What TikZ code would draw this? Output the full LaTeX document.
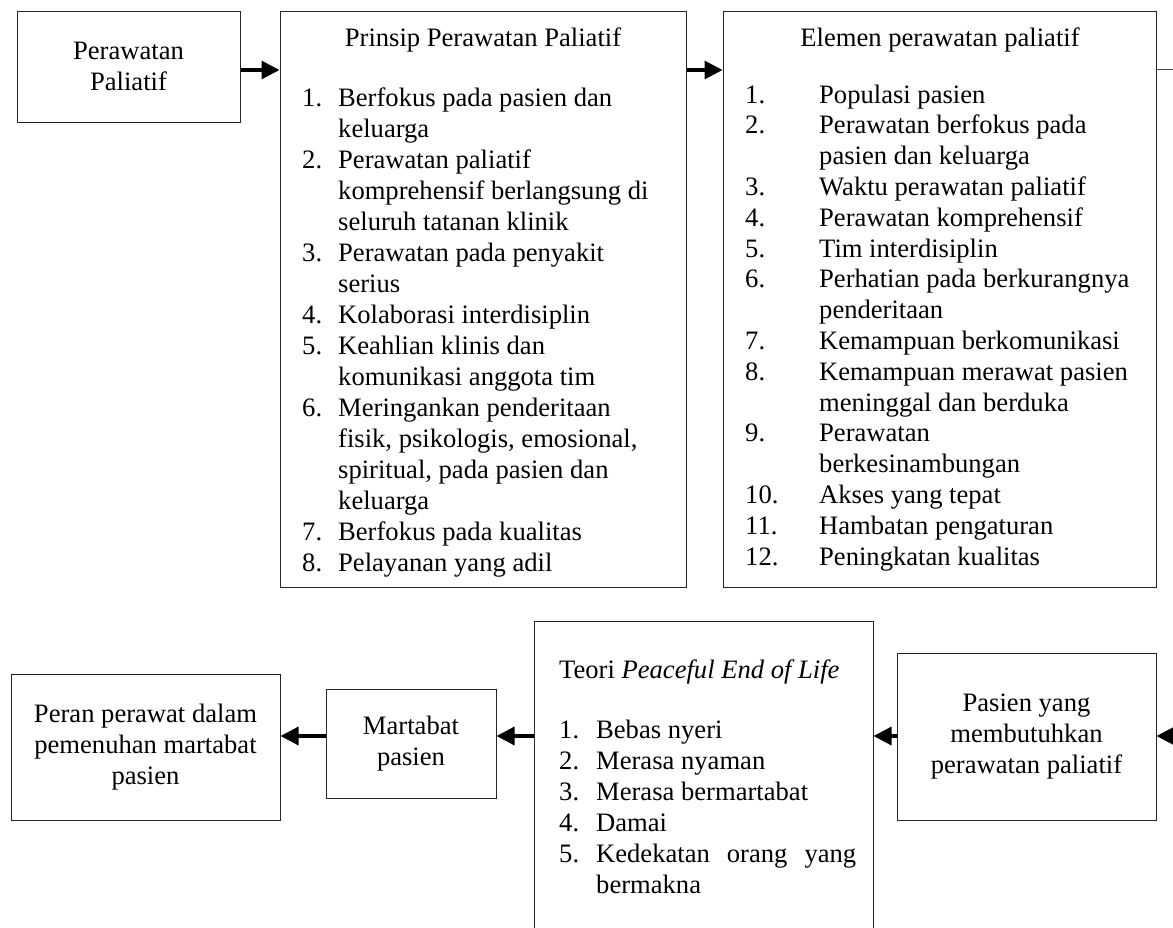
\documentclass[tikz,border=0pt]{standalone}
\usepackage{fontspec}
\setmainfont{Liberation Serif}
\usetikzlibrary{arrows.meta}
\newcommand{\fsz}{\fontsize{26.6pt}{31pt}\selectfont}
\newcommand{\fszb}{\fontsize{26.6pt}{30.8pt}\selectfont}
\begin{document}
\begin{tikzpicture}[x=1pt,y=-1pt,
  box/.style={draw=black!85, line width=1pt, inner sep=0pt, align=center, font=\fsz},
  arr/.style={line width=3.2pt, -{Triangle[length=18pt,width=18pt]}},
  thinline/.style={draw=black!70, line width=1pt},
  txt/.style={inner sep=0pt, anchor=base west, font=\fsz},
  txtb/.style={inner sep=0pt, anchor=base west, font=\fszb},
  ttl/.style={inner sep=0pt, anchor=base, font=\fsz}]
\useasboundingbox (0,0) rectangle (1173,927);
\clip (0,0) rectangle (1173,927);

% top row boxes
\node[box, minimum width=223pt, minimum height=111pt] (b1) at (128.5,66.5) {Perawatan\\Paliatif};
\node[box, minimum width=406pt, minimum height=576pt] (b2) at (483,299) {};
\node[box, minimum width=433pt, minimum height=576pt] (b3) at (939.5,299) {};

% bottom row boxes
\node[box, minimum width=259pt, minimum height=167pt] (b4) at (1026.5,736.5) {Pasien yang\\membutuhkan\\perawatan paliatif};
\node[box, minimum width=339pt, minimum height=339pt] (b5) at (703.5,790.5) {};
\node[box, minimum width=170pt, minimum height=109pt] (b6) at (411,743.5) {Martabat\\pasien};
\node[box, minimum width=269pt, minimum height=146pt] (b7) at (145.5,747) {Peran perawat dalam\\pemenuhan martabat\\pasien};

% box 2 content
\node[ttl] (t2) at (483,46) {Prinsip Perawatan Paliatif};
\node[txt] (l2) at (302,106) {\begin{tabular}[t]{@{}p{36pt}@{}l@{}}
1. & Berfokus pada pasien dan\\
   & keluarga\\
2. & Perawatan paliatif\\
   & komprehensif berlangsung di\\
   & seluruh tatanan klinik\\
3. & Perawatan pada penyakit\\
   & serius\\
4. & Kolaborasi interdisiplin\\
5. & Keahlian klinis dan\\
   & komunikasi anggota tim\\
6. & Meringankan penderitaan\\
   & fisik, psikologis, emosional,\\
   & spiritual, pada pasien dan\\
   & keluarga\\
7. & Berfokus pada kualitas\\
8. & Pelayanan yang adil
\end{tabular}};

% box 3 content
\node[ttl] (t3) at (940,46) {Elemen perawatan paliatif};
\node[txtb] (l3) at (745,103) {\begin{tabular}[t]{@{}p{74pt}@{}l@{}}
1. & Populasi pasien\\
2. & Perawatan berfokus pada\\
   & pasien dan keluarga\\
3. & Waktu perawatan paliatif\\
4. & Perawatan komprehensif\\
5. & Tim interdisiplin\\
6. & Perhatian pada berkurangnya\\
   & penderitaan\\
7. & Kemampuan berkomunikasi\\
8. & Kemampuan merawat pasien\\
   & meninggal dan berduka\\
9. & Perawatan\\
   & berkesinambungan\\
10. & Akses yang tepat\\
11. & Hambatan pengaturan\\
12. & Peningkatan kualitas
\end{tabular}};

% box 5 content
\node[txt] (t5) at (559,678) {Teori \textit{Peaceful End of Life}};
\node[txt] (l5) at (559,738) {\begin{tabular}[t]{@{}p{37pt}@{}l@{}}
1. & Bebas nyeri\\
2. & Merasa nyaman\\
3. & Merasa bermartabat\\
4. & Damai\\
5. & \makebox[260pt][s]{Kedekatan orang yang}\\
   & bermakna
\end{tabular}};

% connectors, top row
\coordinate (r1) at (1173,69);
\coordinate (r2) at (1173,736);
\draw[arr] ([yshift=-3.5pt]b1.east) -- ([yshift=-3.5pt]b1.east -| b2.west);
\draw[arr] ([yshift=-3.5pt]b1.east -| b2.east) -- ([yshift=-3.5pt]b1.east -| b3.west);
\draw[thinline] (r1 -| b3.east) -- (r1);

% connectors, bottom row
\draw[arr] (r2) -- (r2 -| b4.east);
\draw[arr] (r2 -| b4.west) -- (r2 -| b5.east);
\draw[arr] (r2 -| b5.west) -- (r2 -| b6.east);
\draw[arr] (r2 -| b6.west) -- (r2 -| b7.east);
\end{tikzpicture}
\end{document}
